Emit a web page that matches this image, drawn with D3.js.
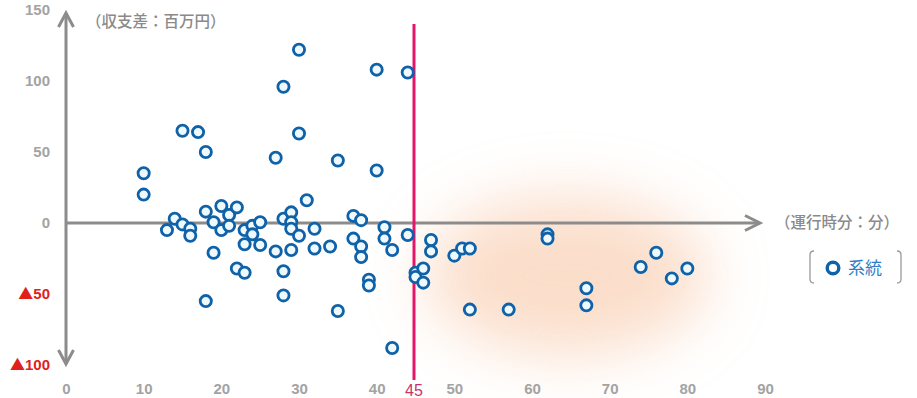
<!DOCTYPE html>
<html><head><meta charset="utf-8">
<script src="https://cdn.jsdelivr.net/npm/d3@7"></script>
<style>html,body{margin:0;padding:0;background:#fff;} svg{display:block}</style>
</head><body><svg id="c" width="917" height="398"></svg>
<script>
// ---- data ----
const xTicks = [0,10,20,30,40,50,60,70,80,90];
const yTicks = [-100,-50,0,50,100,150];
const threshold = 45;
const seriesName = "系統";
const xTitle = "（運行時分：分）";
const yTitle = "（収支差：百万円）";
const runMinutes = [30,28,40,44,15,17,30,18,27,35,40,10,10,31,
  14,13,15,16,16,18,19,20,20,21,21,22,19,18,22,23,23,23,24,24,25,25,27,28,28,28,29,29,29,30,29,32,32,34,35,
  37,38,37,38,38,39,39,41,41,42,42,44,45,45,
  47,47,46,46,50,51,52,52,57,62,62,67,67,74,76,78,80];
const balance = [122,96,108,106,65,64,63,50,46,44,37,35,20,16,
  3,-5,-1,-4,-9,8,0.5,12,-5,5.6,-2,11,-21,-55,-32,-35,-5,-15,-2,-8,0.5,-15.5,-20,-34,-51,3,7.5,0.5,-4,-9,-19,-4,-18,-16.5,-62,
  5,2,-11,-16.5,-24,-40,-44,-3,-11,-19,-88,-8.5,-35,-38,
  -12,-20,-32,-42,-23,-18,-18,-61,-61,-8,-11,-46,-58,-31,-21,-39,-32];

// ---- chart ----
const svg = d3.select("#c");
const x = d3.scaleLinear().domain([0,90]).range([66,765]);
const y = d3.scaleLinear().domain([-100,150]).range([365,10]);
const gray = "#8c8c8c";
const numFont = "'Liberation Sans','Arial',sans-serif";
const cjkFont = "'Noto Sans CJK JP','Noto Sans',sans-serif";

const defs = svg.append("defs");
defs.append("filter").attr("id","blur").attr("x","-80%").attr("y","-100%").attr("width","260%").attr("height","300%")
  .append("feGaussianBlur").attr("stdDeviation",30);

// glow region
svg.append("ellipse")
  .attr("cx", x(64.5)).attr("cy", y(-37))
  .attr("rx", 142).attr("ry", 80)
  .attr("fill", "#f9cfb2").attr("opacity", 0.68)
  .attr("filter","url(#blur)");

// axes lines with arrows
const axes = svg.append("g").attr("stroke", gray).attr("stroke-width", 3).attr("fill","none")
  .attr("stroke-linecap","butt");
axes.append("line").attr("x1", x(0)).attr("x2", x(0)).attr("y1", y(150)+4).attr("y2", y(-100)-1);
axes.append("line").attr("x1", x(0)).attr("x2", 759).attr("y1", y(0)).attr("y2", y(0));
axes.append("path").attr("d", `M${x(0)-7.5},${y(150)+17} L${x(0)},${y(150)+3} L${x(0)+7.5},${y(150)+17}`);
axes.append("path").attr("d", `M${x(0)-7.5},${y(-100)-15} L${x(0)},${y(-100)-1} L${x(0)+7.5},${y(-100)-15}`);
axes.append("path").attr("d", `M745,${y(0)-7.5} L760,${y(0)} L745,${y(0)+7.5}`);

// threshold line
svg.append("line").attr("x1", x(threshold)-1.5).attr("x2", x(threshold)-1.5)
  .attr("y1", 24).attr("y2", 380)
  .attr("stroke", "#e5166a").attr("stroke-width", 3);

// x tick labels
const gx = svg.append("g").attr("transform","translate(0,383)")
  .call(d3.axisBottom(x).tickValues(xTicks).tickSize(0).tickPadding(0).tickFormat(d3.format("d")));
gx.select(".domain").remove();
gx.selectAll("text").attr("font-family", numFont).attr("font-size", 15).attr("font-weight","bold")
  .attr("fill", "#a3a3a3").attr("dy","0.71em");

// threshold label
svg.append("text").attr("x", x(threshold)-1.5).attr("y", 396).attr("text-anchor","middle")
  .attr("font-family", numFont).attr("font-size", 16).attr("fill", "#c8336e").text(threshold);

// y tick labels
const gy = svg.append("g").attr("transform","translate(50,0)")
  .call(d3.axisLeft(y).tickValues(yTicks).tickSize(0).tickPadding(0)
    .tickFormat(d => d < 0 ? "▲" + (-d) : d));
gy.select(".domain").remove();
gy.selectAll("text").attr("font-family", numFont).attr("font-size", 15).attr("font-weight","bold")
  .attr("fill", d => d < 0 ? "#e0201b" : "#a3a3a3")
  .each(function(d){
    if (d < 0) {
      const t = d3.select(this).text(null);
      t.append("tspan").attr("font-family", cjkFont).attr("font-size", 15).text("▲");
      t.append("tspan").text(-d);
    }
  });

// axis titles
svg.append("text").attr("x", 86).attr("y", 22).attr("dy","0.35em")
  .attr("font-family", cjkFont).attr("font-size", 15.5).attr("font-weight",500).attr("fill", "#8a8a8a").text(yTitle);
svg.append("text").attr("x", 775).attr("y", y(0)).attr("dy","0.35em")
  .attr("font-family", cjkFont).attr("font-size", 15.5).attr("font-weight",500).attr("fill", "#8a8a8a").text(xTitle);

// points
const pts = runMinutes.map((m,i)=>({m, b: balance[i]}));
svg.append("g").selectAll("circle").data(pts).join("circle")
  .attr("cx", d => x(d.m)).attr("cy", d => y(d.b)).attr("r", 5.6)
  .attr("fill", "#eef9fd").attr("stroke", "#0f61a8").attr("stroke-width", 2.8);

// legend
const lg = svg.append("g");
lg.append("path").attr("d","M814,251 Q810,251 810,255 L810,279 Q810,283 814,283")
  .attr("fill","none").attr("stroke","#9a9a9a").attr("stroke-width",1.3);
lg.append("path").attr("d","M897,251 Q901,251 901,255 L901,279 Q901,283 897,283")
  .attr("fill","none").attr("stroke","#9a9a9a").attr("stroke-width",1.3);
lg.append("circle").attr("cx", 833).attr("cy", 268).attr("r", 5.8)
  .attr("fill","#fff").attr("stroke","#0f61a8").attr("stroke-width",3.4);
lg.append("text").attr("x", 848).attr("y", 268).attr("dy","0.35em")
  .attr("font-family", cjkFont).attr("font-size", 17).attr("fill", "#2f7fc6").text(seriesName);
</script></body></html>
